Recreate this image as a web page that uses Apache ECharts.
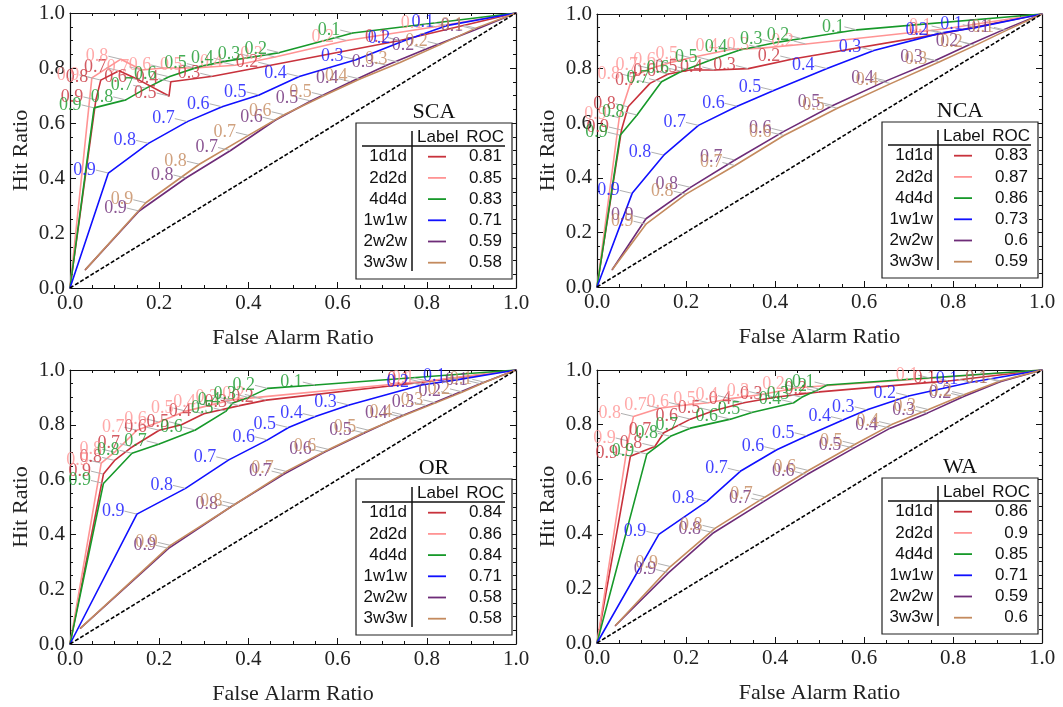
<!DOCTYPE html>
<html>
<head>
<meta charset="utf-8">
<script src="https://cdn.jsdelivr.net/npm/echarts@6/dist/echarts.min.js"></script>
<style>
  html, body { margin: 0; padding: 0; background: #fff; }
  #chart { width: 1063px; height: 707px; }
</style>
</head>
<body>
<div id="chart"></div>
<script>
// Threshold labels written next to each ROC point (from the highest threshold down)
const thresholds = ['0.9', '0.8', '0.7', '0.6', '0.5', '0.4', '0.3', '0.2', '0.1'];
const seriesNames = ['1d1d', '2d2d', '4d4d', '1w1w', '2w2w', '3w3w'];
const regionNames = ['SCA', 'NCA', 'OR', 'WA'];
const axisTickValues = [0, 0.2, 0.4, 0.6, 0.8, 1.0];

// ROC scores shown in each region's table
const rocSCA = ['0.81', '0.85', '0.83', '0.71', '0.59', '0.58'];
const rocNCA = ['0.83', '0.87', '0.86', '0.73', '0.6', '0.59'];
const rocOR  = ['0.84', '0.86', '0.84', '0.71', '0.58', '0.58'];
const rocWA  = ['0.86', '0.9', '0.85', '0.71', '0.59', '0.6'];

// ROC curves: [false alarm ratio, hit ratio]; points 2..10 carry thresholds 0.9 .. 0.1
const sca1d1d = [[0,0],[0.058,0.684],[0.069,0.756],[0.11,0.79],[0.155,0.756],[0.222,0.698],[0.226,0.75],[0.32,0.77],[0.45,0.81],[0.74,0.90],[1,1]];
const sca2d2d = [[0,0],[0.049,0.764],[0.114,0.832],[0.161,0.793],[0.21,0.80],[0.28,0.80],[0.37,0.81],[0.46,0.84],[0.62,0.90],[0.82,0.95],[1,1]];
const sca4d4d = [[0,0],[0.054,0.655],[0.125,0.684],[0.17,0.726],[0.222,0.768],[0.29,0.805],[0.35,0.825],[0.41,0.84],[0.47,0.856],[0.634,0.927],[1,1]];
const sca1w1w = [[0,0],[0.086,0.418],[0.176,0.526],[0.263,0.605],[0.341,0.659],[0.424,0.702],[0.514,0.769],[0.641,0.83],[0.746,0.897],[0.844,0.954],[1,1]];
const sca2w2w = [[0.034,0.066],[0.155,0.28],[0.26,0.40],[0.36,0.50],[0.46,0.61],[0.54,0.68],[0.63,0.75],[0.71,0.81],[0.80,0.87],[0.91,0.94],[1,1]];
const sca3w3w = [[0.034,0.066],[0.17,0.31],[0.29,0.45],[0.40,0.555],[0.48,0.63],[0.57,0.70],[0.65,0.76],[0.74,0.82],[0.83,0.885],[0.91,0.945],[1,1]];

const nca1d1d = [[0,0],[0.055,0.575],[0.07,0.66],[0.119,0.746],[0.16,0.78],[0.209,0.795],[0.265,0.795],[0.34,0.80],[0.44,0.835],[0.78,0.93],[1,1]];
const nca2d2d = [[0,0],[0.05,0.62],[0.08,0.77],[0.12,0.80],[0.16,0.82],[0.21,0.84],[0.30,0.87],[0.37,0.875],[0.47,0.89],[0.78,0.945],[1,1]];
const nca4d4d = [[0,0],[0.052,0.556],[0.09,0.63],[0.145,0.752],[0.19,0.79],[0.254,0.831],[0.321,0.868],[0.40,0.895],[0.46,0.91],[0.584,0.942],[1,1]];
const nca1w1w = [[0,0],[0.079,0.343],[0.15,0.483],[0.228,0.592],[0.315,0.662],[0.397,0.72],[0.517,0.80],[0.622,0.866],[0.772,0.93],[0.85,0.95],[1,1]];
const nca2w2w = [[0.034,0.063],[0.11,0.25],[0.21,0.365],[0.31,0.465],[0.42,0.57],[0.53,0.665],[0.65,0.755],[0.76,0.83],[0.84,0.89],[0.91,0.94],[1,1]];
const nca3w3w = [[0.034,0.063],[0.11,0.23],[0.20,0.34],[0.31,0.445],[0.42,0.555],[0.54,0.655],[0.66,0.745],[0.77,0.825],[0.85,0.885],[0.92,0.94],[1,1]];

const or1d1d = [[0,0],[0.075,0.62],[0.10,0.67],[0.14,0.72],[0.20,0.78],[0.25,0.80],[0.30,0.84],[0.38,0.87],[0.44,0.89],[0.79,0.955],[1,1]];
const or2d2d = [[0,0],[0.07,0.66],[0.10,0.70],[0.15,0.78],[0.20,0.81],[0.26,0.85],[0.31,0.87],[0.36,0.89],[0.42,0.90],[0.80,0.96],[1,1]];
const or4d4d = [[0,0],[0.075,0.586],[0.139,0.696],[0.20,0.73],[0.281,0.781],[0.35,0.85],[0.365,0.88],[0.40,0.90],[0.443,0.933],[0.55,0.945],[1,1]];
const or1w1w = [[0,0],[0.15,0.474],[0.259,0.568],[0.356,0.672],[0.443,0.745],[0.49,0.79],[0.55,0.83],[0.626,0.872],[0.788,0.945],[0.87,0.965],[1,1]];
const or2w2w = [[0.023,0.057],[0.221,0.349],[0.36,0.50],[0.48,0.62],[0.57,0.70],[0.66,0.77],[0.74,0.83],[0.80,0.87],[0.86,0.91],[0.92,0.95],[1,1]];
const or3w3w = [[0.023,0.057],[0.225,0.36],[0.37,0.51],[0.485,0.63],[0.58,0.71],[0.67,0.78],[0.75,0.835],[0.82,0.88],[0.88,0.92],[0.93,0.955],[1,1]];

const wa1d1d = [[0,0],[0.075,0.684],[0.13,0.72],[0.15,0.77],[0.21,0.82],[0.26,0.85],[0.33,0.88],[0.40,0.90],[0.50,0.92],[0.79,0.96],[1,1]];
const wa2d2d = [[0,0],[0.07,0.74],[0.082,0.83],[0.14,0.86],[0.19,0.87],[0.25,0.88],[0.30,0.895],[0.37,0.91],[0.45,0.935],[0.75,0.97],[1,1]];
const wa4d4d = [[0,0],[0.112,0.692],[0.165,0.757],[0.21,0.787],[0.30,0.82],[0.35,0.845],[0.442,0.88],[0.46,0.90],[0.50,0.93],[0.517,0.945],[1,1]];
const wa1w1w = [[0,0],[0.139,0.398],[0.247,0.519],[0.322,0.629],[0.404,0.708],[0.472,0.759],[0.554,0.818],[0.607,0.854],[0.70,0.905],[0.84,0.955],[1,1]];
const wa2w2w = [[0.041,0.063],[0.161,0.258],[0.262,0.404],[0.375,0.519],[0.472,0.617],[0.577,0.714],[0.659,0.787],[0.742,0.842],[0.824,0.903],[0.906,0.957],[1,1]];
const wa3w3w = [[0.041,0.063],[0.165,0.28],[0.265,0.42],[0.378,0.535],[0.475,0.632],[0.58,0.728],[0.662,0.80],[0.745,0.855],[0.826,0.91],[0.906,0.96],[1,1]];

const curveSets = [
  [sca1d1d, sca2d2d, sca4d4d, sca1w1w, sca2w2w, sca3w3w],
  [nca1d1d, nca2d2d, nca4d4d, nca1w1w, nca2w2w, nca3w3w],
  [or1d1d, or2d2d, or4d4d, or1w1w, or2w2w, or3w3w],
  [wa1d1d, wa2d2d, wa4d4d, wa1w1w, wa2w2w, wa3w3w]
];
const rocSets = [rocSCA, rocNCA, rocOR, rocWA];

// ---- styling / layout ----
const colors = ['#c8323c', '#ff9494', '#17992a', '#1010ff', '#6e2c78', '#c48a5e'];
const SERIF = '"Liberation Serif", "DejaVu Serif", serif';
const SANS = '"Liberation Sans", Arial, sans-serif';
const grids = [
  { left: 70,  top: 13,  width: 446, height: 275 },
  { left: 597, top: 14,  width: 445, height: 273 },
  { left: 70,  top: 370, width: 446, height: 274 },
  { left: 597, top: 370, width: 445, height: 273 }
];

const chart = echarts.init(document.getElementById('chart'), null, { renderer: 'canvas' });

const xAxes = [], yAxes = [], series = [], graphics = [];

function baseAxis(gridIndex, position, showLabel) {
  return {
    type: 'value', gridIndex, position, min: axisTickValues[0],
    max: axisTickValues[axisTickValues.length - 1], interval: 0.2,
    axisLine: { show: true, onZero: false, lineStyle: { color: '#111', width: 1.2 } },
    axisTick: { show: true, inside: true, length: 6, lineStyle: { color: '#111' } },
    minorTick: { show: true, splitNumber: 4, length: 3, lineStyle: { color: '#111' } },
    splitLine: { show: false },
    axisLabel: {
      show: showLabel, margin: 5, color: '#222', fontFamily: SERIF, fontSize: 21,
      formatter: v => v.toFixed(1)
    }
  };
}

grids.forEach((g, p) => {
  const xb = baseAxis(p, 'bottom', true);
  xb.name = 'False Alarm Ratio';
  xb.nameLocation = 'middle';
  xb.nameGap = 39;
  xb.nameTextStyle = { fontFamily: SERIF, fontSize: 22, color: '#222' };
  const xt = baseAxis(p, 'top', false);
  const yl = baseAxis(p, 'left', true);
  yl.name = 'Hit Ratio';
  yl.nameLocation = 'middle';
  yl.nameGap = 38;
  yl.nameTextStyle = { fontFamily: SERIF, fontSize: 22, color: '#222' };
  const yr = baseAxis(p, 'right', false);
  xAxes.push(xb, xt);
  yAxes.push(yl, yr);

  curveSets[p].forEach((curve, s) => {
    const last = curve.length - 1;
    series.push({
      type: 'line',
      name: seriesNames[s],
      xAxisIndex: p * 2, yAxisIndex: p * 2,
      data: curve.map((pt, i) => ({
        value: pt,
        label: { show: i >= 1 && i < last }
      })),
      showSymbol: true, symbol: 'circle', symbolSize: 1,
      itemStyle: { color: colors[s] },
      lineStyle: { color: colors[s], width: 1.6 },
      label: {
        position: 'left', distance: 4,
        fontFamily: SERIF, fontSize: 18, color: colors[s], opacity: 0.8,
        formatter: prm => thresholds[prm.dataIndex - 1]
      },
      // shift each label away from its point so a short leader joins them
      labelLayout: { dx: -8, dy: -3 },
      labelLine: { show: true, length2: 0, lineStyle: { color: '#b0b0b0', width: 1 } },
      emphasis: { disabled: true },
      z: 2
    });
  });

  // no-skill diagonal
  series.push({
    type: 'line', xAxisIndex: p * 2, yAxisIndex: p * 2,
    data: [[0, 0], [1, 1]], symbol: 'none',
    lineStyle: { color: '#000', width: 1.6, type: [4, 2] },
    emphasis: { disabled: true }, z: 3
  });

  // region title and score table
  const right = g.left + g.width, bottom = g.top + g.height;
  const bl = right - 160, bt = bottom - 165, bw = 156, bh = 156;
  graphics.push(
    { type: 'text', z: 100, x: bl + bw / 2, y: bt - 11,
      style: { text: regionNames[p], font: '22px ' + SERIF, fill: '#111',
               align: 'center', verticalAlign: 'middle', textAlign: 'center', textVerticalAlign: 'middle' } },
    { type: 'rect', z: 100, shape: { x: bl, y: bt, width: bw, height: bh },
      style: { fill: '#fff', stroke: '#222', lineWidth: 1.2 } },
    { type: 'line', z: 101, shape: { x1: bl + 56, y1: bt + 8, x2: bl + 56, y2: bt + 148 },
      style: { stroke: '#111', lineWidth: 1.5 } },
    { type: 'line', z: 101, shape: { x1: bl + 6, y1: bt + 23, x2: bl + 149, y2: bt + 23 },
      style: { stroke: '#111', lineWidth: 1.5 } },
    { type: 'text', z: 101, x: bl + 61, y: bt + 14,
      style: { text: 'Label', font: '17px ' + SANS, fill: '#111',
               align: 'left', verticalAlign: 'middle', textAlign: 'left', textVerticalAlign: 'middle' } },
    { type: 'text', z: 101, x: bl + 148, y: bt + 14,
      style: { text: 'ROC', font: '17px ' + SANS, fill: '#111',
               align: 'right', verticalAlign: 'middle', textAlign: 'right', textVerticalAlign: 'middle' } }
  );
  seriesNames.forEach((nm, k) => {
    const cy = bt + 33.7 + 21.2 * k;
    graphics.push(
      { type: 'text', z: 101, x: bl + 51, y: cy,
        style: { text: nm, font: '17px ' + SANS, fill: '#111',
                 align: 'right', verticalAlign: 'middle', textAlign: 'right', textVerticalAlign: 'middle' } },
      { type: 'line', z: 101, shape: { x1: bl + 72, y1: cy, x2: bl + 90, y2: cy },
        style: { stroke: colors[k], lineWidth: 1.8 } },
      { type: 'text', z: 101, x: bl + 146, y: cy,
        style: { text: rocSets[p][k], font: '17px ' + SANS, fill: '#111',
                 align: 'right', verticalAlign: 'middle', textAlign: 'right', textVerticalAlign: 'middle' } }
    );
  });
});

chart.setOption({
  animation: false,
  backgroundColor: '#fff',
  grid: grids.map(g => Object.assign({ containLabel: false }, g)),
  xAxis: xAxes,
  yAxis: yAxes,
  series: series,
  graphic: { elements: graphics }
});
</script>
</body>
</html>
